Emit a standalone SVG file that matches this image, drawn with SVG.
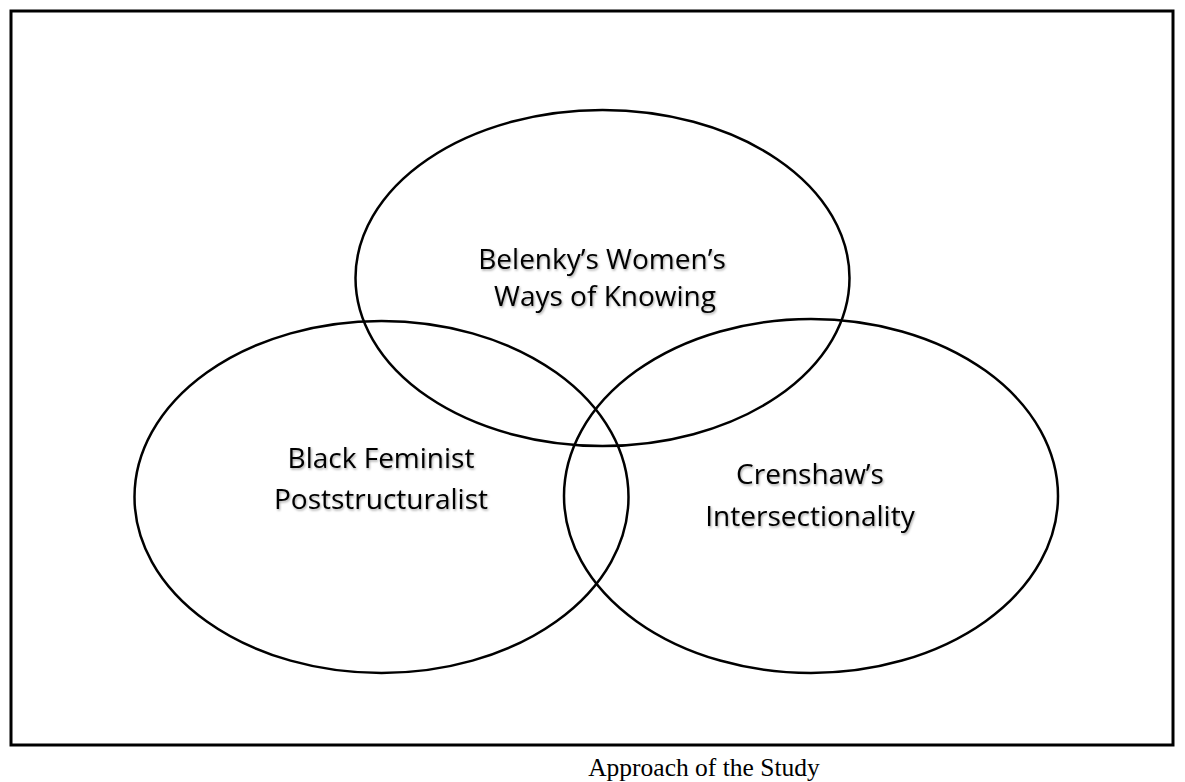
<svg xmlns="http://www.w3.org/2000/svg" width="1185" height="782" viewBox="0 0 1185 782">
  <style>
    .ring { fill: none; stroke: #000; stroke-width: 2.5; }
    .lbl { font-family: "Open Sans", "Noto Sans", sans-serif; font-size: 28px; fill: #000; text-anchor: middle; }
    .cap { font-family: "Liberation Serif", serif; font-size: 25.5px; fill: #000; text-anchor: middle; }
  </style>
  <defs>
    <filter id="sh" x="-10%" y="-20%" width="120%" height="140%">
      <feDropShadow dx="1" dy="1.5" stdDeviation="1" flood-color="#000" flood-opacity="0.35"/>
    </filter>
  </defs>
  <rect width="1185" height="782" fill="#fff"/>
  <rect id="frame" x="11" y="11" width="1162" height="734" fill="none" stroke="#000" stroke-width="3"/>
  <g id="connectors"></g>
  <g id="belenky">
    <ellipse class="ring" cx="602.5" cy="278" rx="247" ry="168"/>
    <text class="lbl" filter="url(#sh)" x="602" y="269">Belenky’s Women’s</text>
    <text class="lbl" filter="url(#sh)" x="605" y="306">Ways of Knowing</text>
  </g>
  <g id="black-feminist">
    <ellipse class="ring" cx="381.5" cy="497" rx="247" ry="176"/>
    <text class="lbl" filter="url(#sh)" x="381" y="468">Black Feminist</text>
    <text class="lbl" filter="url(#sh)" x="381" y="509">Poststructuralist</text>
  </g>
  <g id="crenshaw">
    <ellipse class="ring" cx="811" cy="496" rx="247" ry="177"/>
    <text class="lbl" filter="url(#sh)" x="810" y="484">Crenshaw’s</text>
    <text class="lbl" filter="url(#sh)" x="810" y="526">Intersectionality</text>
  </g>
  <text class="cap" x="704" y="776">Approach of the Study</text>
</svg>
